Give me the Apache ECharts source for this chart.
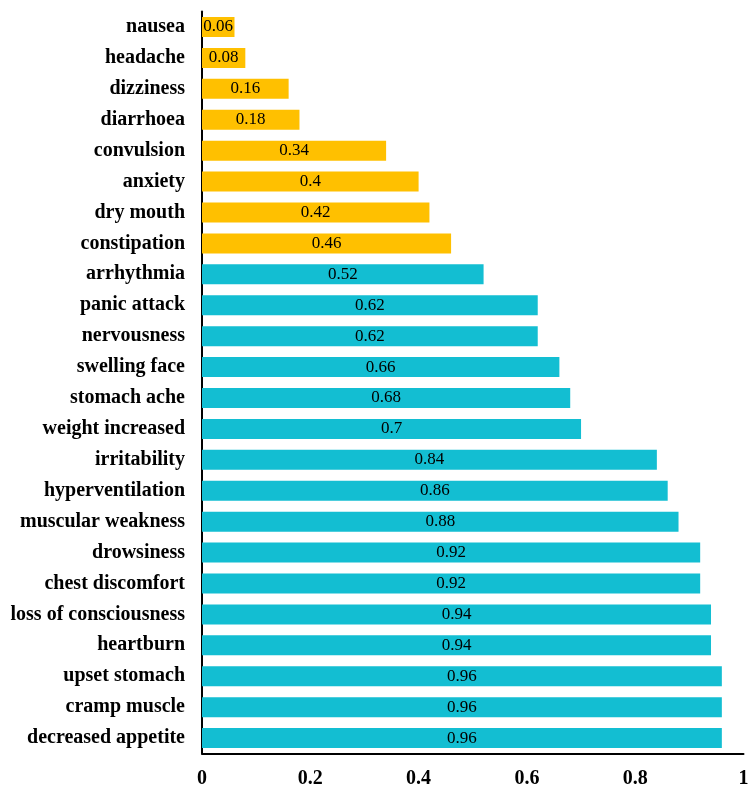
<!DOCTYPE html>
<html><head><meta charset="utf-8">
<script src="https://cdn.jsdelivr.net/npm/echarts@6/dist/echarts.min.js"></script>
<style>html,body{margin:0;padding:0;background:#fff}#c{width:748px;height:785px}</style>
</head><body><div id="c"></div>
<script>
const categories = ["nausea","headache","dizziness","diarrhoea","convulsion","anxiety","dry mouth","constipation","arrhythmia","panic attack","nervousness","swelling face","stomach ache","weight increased","irritability","hyperventilation","muscular weakness","drowsiness","chest discomfort","loss of consciousness","heartburn","upset stomach","cramp muscle","decreased appetite"];
const values = [0.06,0.08,0.16,0.18,0.34,0.4,0.42,0.46,0.52,0.62,0.62,0.66,0.68,0.7,0.84,0.86,0.88,0.92,0.92,0.94,0.94,0.96,0.96,0.96];
const groupA = ["nausea","headache","dizziness","diarrhoea","convulsion","anxiety","dry mouth","constipation"];
const xTicks = [0,0.2,0.4,0.6,0.8,1];
const colorA = "#FFC000", colorB = "#13BED2";
const chart = echarts.init(document.getElementById('c'));
const font = "'Liberation Serif','Times New Roman',serif";
chart.setOption({
  animation:false,
  grid:{left:202,right:4.5,top:11.5,bottom:31.5,containLabel:false,outerBoundsMode:'none'},
  xAxis:{type:'value',min:0,max:1,interval:0.2,
    axisLine:{show:true,lineStyle:{color:'#000',width:2}},
    axisTick:{show:false},splitLine:{show:false},
    axisLabel:{fontFamily:font,fontWeight:'bold',fontSize:20,color:'#000',margin:15,
      formatter:v=>String(+(+v).toFixed(1))}},
  yAxis:{type:'category',data:categories,inverse:true,
    axisLine:{show:true,lineStyle:{color:'#000',width:2}},
    axisTick:{show:false},
    axisLabel:{fontFamily:font,fontWeight:'bold',fontSize:20,color:'#000',margin:17}},
  series:[{type:'bar',barWidth:20,
    data:values.map((v,i)=>({value:v,itemStyle:{color:groupA.includes(categories[i])?colorA:colorB}})),
    label:{show:true,position:'inside',color:'#000',fontFamily:font,fontSize:17,formatter:p=>String(p.value)}}]
});
</script></body></html>
